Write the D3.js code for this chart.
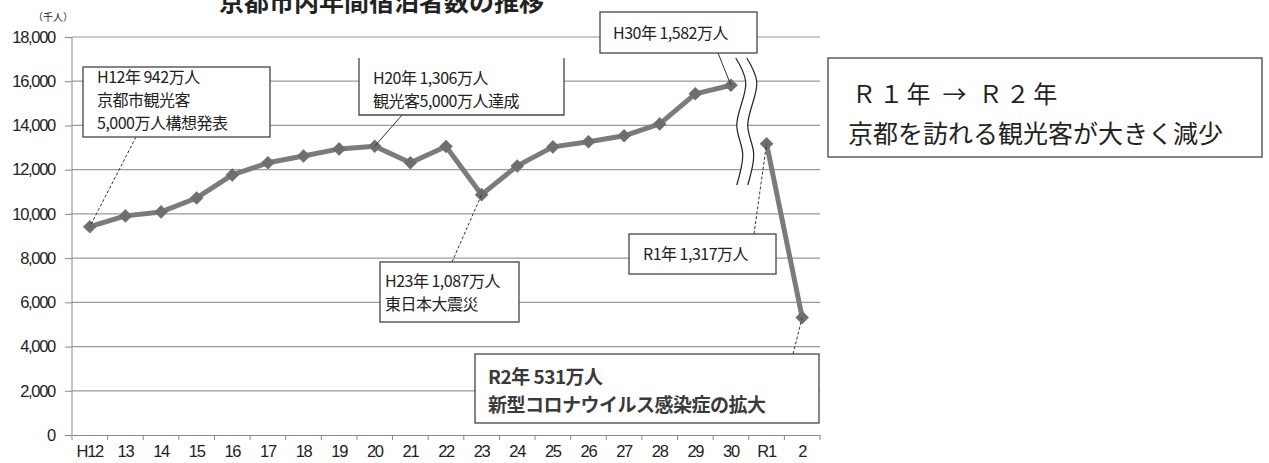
<!DOCTYPE html>
<html lang="ja">
<head>
<meta charset="UTF-8">
<title>京都市内年間宿泊者数の推移</title>
<style>
  body { margin: 0; background: #fff; }
  svg text { font-family: "Noto Sans CJK JP", "Liberation Sans", sans-serif; fill: #222; }
  .tick text { font-family: "Liberation Sans", sans-serif; }
</style>
</head>
<body>
<svg id="chart"></svg>
<script src="https://d3js.org/d3.v7.min.js"></script>
<script>
// years (H = Heisei, R = Reiwa); series breaks after H30
const categories = ["H12","13","14","15","16","17","18","19","20","21","22","23","24","25","26","27","28","29","30","R1","2"];
const tickLabels = ["H12","13","14","15","16","17","18","19","20","21","22","23","24","25","26","27","28","29","30","R1","2"];
// overnight guests, thousand people
const guests = [9420, 9910, 10090, 10720, 11760, 12310, 12620, 12940, 13060, 12310, 13050, 10870, 12170, 13030, 13260, 13530, 14070, 15430, 15820, 13170, 5310];
const yTicks = [0, 2000, 4000, 6000, 8000, 10000, 12000, 14000, 16000, 18000];
const breakAfter = "30";

// callout texts, keyed by category
const notes = [
  { cat: "H12", lines: ["H12年 942万人", "京都市観光客", "5,000万人構想発表"] },
  { cat: "20",  lines: ["H20年 1,306万人", "観光客5,000万人達成"] },
  { cat: "23",  lines: ["H23年 1,087万人", "東日本大震災"] },
  { cat: "30",  lines: ["H30年  1,582万人"] },
  { cat: "R1",  lines: ["R1年  1,317万人"] },
  { cat: "2",   lines: ["R2年 531万人", "新型コロナウイルス感染症の拡大"] }
];
const sideNote = ["Ｒ１年 → Ｒ２年", "京都を訪れる観光客が大きく減少"];

const W = 1269, H = 463;
const svg = d3.select("#chart").attr("width", W).attr("height", H);

const x = d3.scaleBand().domain(categories).range([72, 820]);
const y = d3.scaleLinear().domain([0, 18000]).range([435, 37]);
const cx = c => x(c) + x.bandwidth() / 2;
const valOf = c => guests[categories.indexOf(c)];

// title (cropped at the top like the source)
svg.append("text").attr("x", 219).attr("y", 11)
  .attr("font-size", 25).attr("font-weight", "bold").attr("fill", "#111")
  .text("京都市内年間宿泊者数の推移");

svg.append("text").attr("x", 33).attr("y", 21).attr("font-size", 10)
  .text("（千人）");

// gridlines
svg.append("g").selectAll("line").data(yTicks.filter(d => d > 0)).join("line")
  .attr("x1", 72).attr("x2", 820)
  .attr("y1", d => y(d)).attr("y2", d => y(d))
  .attr("stroke", "#9a9a9a").attr("stroke-width", 1.2);

// y axis
const yAxis = svg.append("g").attr("transform", "translate(72,0)")
  .call(d3.axisLeft(y).tickValues(yTicks).tickFormat(d3.format(",")).tickSize(7).tickPadding(10));
yAxis.select(".domain").attr("stroke", "#888").attr("d", `M0,${y(18000)}V${y(0)}`);
yAxis.selectAll(".tick line").attr("stroke", "#888");
yAxis.selectAll(".tick text").attr("font-size", 16.5).attr("letter-spacing", -1.3).attr("fill", "#111");

// x axis
const xAxis = svg.append("g").attr("transform", `translate(0,${y(0)})`)
  .call(d3.axisBottom(x).tickFormat((d, i) => tickLabels[i]).tickSize(0).tickPadding(10));
xAxis.select(".domain").attr("stroke", "#888");
xAxis.selectAll(".tick text").attr("font-size", 16.5).attr("letter-spacing", -1.3).attr("fill", "#111");
svg.append("g").selectAll("line").data(categories.concat(["end"])).join("line")
  .attr("x1", (d, i) => 72 + i * x.step()).attr("x2", (d, i) => 72 + i * x.step())
  .attr("y1", y(0)).attr("y2", y(0) + 5).attr("stroke", "#888");

// break marks between H30 and R1
const bc = x(categories[categories.indexOf(breakAfter) + 1]) - 3;
const waveShape = [[-5, 58], [5, 82], [-4, 125], [2, 155], [-4, 185]];
const wave = off => d3.line().curve(d3.curveCatmullRom)(waveShape.map(([dx, yy]) => [bc + off + dx, yy]));
svg.append("path").attr("d", wave(0.5)).attr("fill", "none")
  .attr("stroke", "#fff").attr("stroke-width", 10);
[-5, 6].forEach(off => {
  svg.append("path").attr("d", wave(off)).attr("fill", "none")
    .attr("stroke", "#222").attr("stroke-width", 1.2);
});

// series line, split at the break
const pts = categories.map((c, i) => ({ c, v: guests[i] }));
const bi = categories.indexOf(breakAfter) + 1;
const line = d3.line().x(d => cx(d.c)).y(d => y(d.v));
[pts.slice(0, bi), pts.slice(bi)].forEach(seg => {
  svg.append("path").datum(seg).attr("d", line).attr("fill", "none")
    .attr("stroke", "#7b7b7b").attr("stroke-width", 5).attr("stroke-linejoin", "round");
});
svg.append("g").selectAll("path").data(pts).join("path")
  .attr("d", d3.symbol(d3.symbolSquare, 92))
  .attr("transform", d => `translate(${cx(d.c)},${y(d.v)}) rotate(45)`)
  .attr("fill", "#6e6e6e");

// callout layout: box, text start, baselines, leader anchor
const layout = {
  "H12": { box: [83, 67, 187, 70], tx: 97, ty: [83, 106, 129], fs: 16, anchor: [136, 137], dash: "3,2" },
  "20":  { box: [359, 50, 205, 65], tx: 373, ty: [84, 107], fs: 16, anchor: [402, 115], dash: null, openTop: true },
  "23":  { box: [380, 262, 139, 60], tx: 385, ty: [287, 310], fs: 16, anchor: [452, 262], dash: "3,2" },
  "30":  { box: [600, 12, 157, 41], tx: 613, ty: [39], fs: 16, anchor: [718, 53], dash: null },
  "R1":  { box: [629, 234, 147, 40], tx: 643, ty: [260], fs: 16, anchor: [754, 234], dash: "3,2" },
  "2":   { box: [475, 354, 344, 69], tx: 488, ty: [384, 412], fs: 19, anchor: [793, 354], dash: "3,2", bold: true }
};

notes.forEach(n => {
  const L = layout[n.cat];
  const [bx0, by0, bw, bh] = L.box;
  svg.append("line")
    .attr("x1", L.anchor[0]).attr("y1", L.anchor[1])
    .attr("x2", cx(n.cat)).attr("y2", y(valOf(n.cat)))
    .attr("stroke", "#333").attr("stroke-width", 1)
    .attr("stroke-dasharray", L.dash);
  svg.append("rect").attr("x", bx0).attr("y", by0).attr("width", bw).attr("height", bh)
    .attr("fill", "#fff").attr("stroke", L.openTop ? "none" : "#444").attr("stroke-width", 1.3);
  if (L.openTop) {
    svg.append("path").attr("d", `M${bx0},${by0 + 8}V${by0 + bh}H${bx0 + bw}V${by0 + 8}`)
      .attr("fill", "none").attr("stroke", "#444").attr("stroke-width", 1.3);
  }
  n.lines.forEach((t, i) => {
    svg.append("text").attr("x", L.tx).attr("y", L.ty[i])
      .attr("font-size", L.fs)
      .attr("font-weight", L.bold ? "bold" : "normal")
      .style("fill", L.bold ? "#3a3a3a" : "#222")
      .attr("letter-spacing", -0.5)
      .text(t);
  });
});

// side note box
svg.append("rect").attr("x", 828).attr("y", 58).attr("width", 434).attr("height", 99)
  .attr("fill", "#fff").attr("stroke", "#444").attr("stroke-width", 1.3);
svg.append("text").attr("x", 852).attr("y", 103).attr("font-size", 24)
  .attr("letter-spacing", 3.3).text(sideNote[0]);
svg.append("text").attr("x", 848).attr("y", 143).attr("font-size", 25).text(sideNote[1]);
</script>
</body>
</html>
